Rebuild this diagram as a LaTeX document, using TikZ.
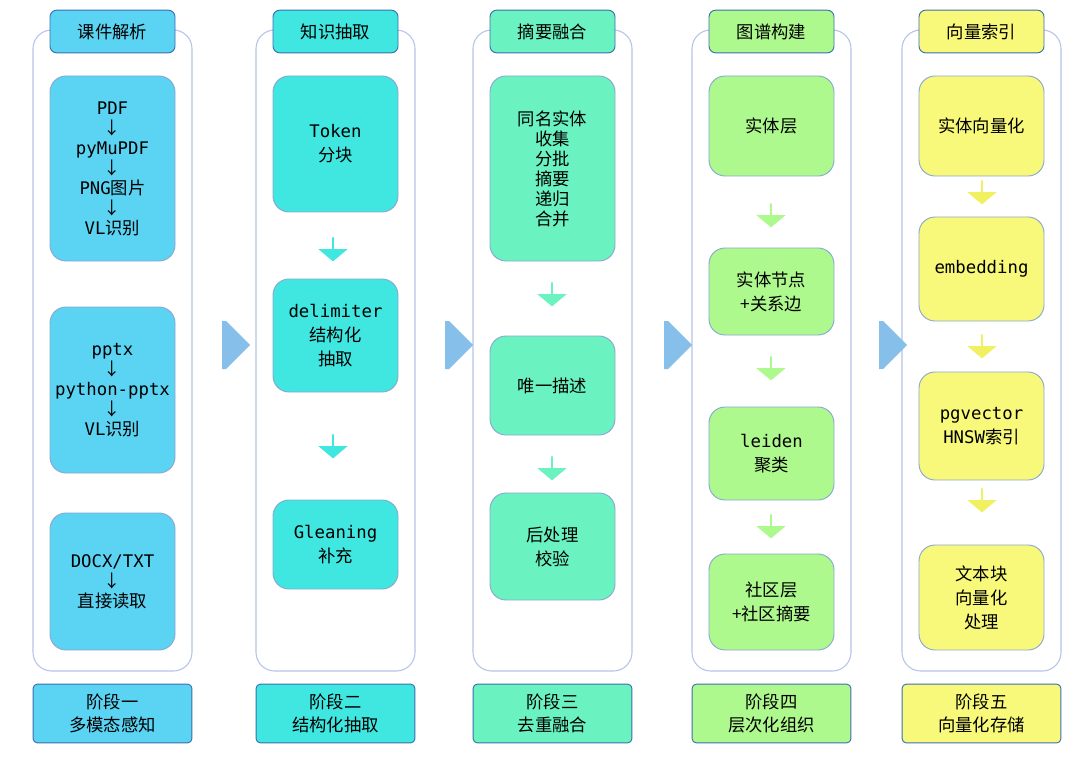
\documentclass[tikz,border=0pt]{standalone}
\usepackage{fontspec}
\setmainfont{Noto Sans CJK SC}
\setmonofont{DejaVu Sans Mono}
\usetikzlibrary{shapes.arrows}
\begin{document}
\begin{tikzpicture}[x=0.75pt,y=-0.75pt,
  font=\fontsize{13}{18}\selectfont,
  outer/.style={draw=#1,rounded corners=14pt,line width=0.8pt,fill=white},
  box/.style={draw=#1,rounded corners=12pt,line width=0.7pt,align=center},
  darr/.style={single arrow,draw=none,fill=#1,shape border rotate=270,minimum width=22pt,single arrow head extend=3pt,single arrow tip angle=100,minimum height=18pt,inner sep=0pt},
  harr/.style={single arrow,draw=none,fill=harrc,minimum width=36pt,single arrow head extend=0pt,minimum height=21pt,inner sep=0pt}]
\definecolor{harrc}{HTML}{86BFEA}
\definecolor{ob}{HTML}{B4C4E8}
\definecolor{bd}{HTML}{3A6FB0}
\definecolor{ca}{HTML}{5BD3F3}\definecolor{cb}{HTML}{40E6E0}\definecolor{cc}{HTML}{6AF2C0}
\definecolor{cd}{HTML}{AEF98E}\definecolor{ce}{HTML}{F8F87A}
\definecolor{aa}{HTML}{40E6E0}\definecolor{ac}{HTML}{6AF2C0}\definecolor{ad}{HTML}{AEF98E}\definecolor{ae}{HTML}{F0F060}
\useasboundingbox (0,0) rectangle (1080,759);
% column macro-like drawing
\newcommand{\col}[6]{% x, colour, title, stage1, stage2, name
  \draw[outer=ob] (#1,30) rectangle ++(159,641);
  \node[box=bd,fill=#2,rounded corners=5pt,minimum width=93.75pt,minimum height=32pt] (t#6) at (#1+79.5,31.5) {#3};
  \node[box=bd,fill=#2,rounded corners=3pt,minimum width=119pt,minimum height=44pt,inner sep=0pt,align=center,font=\fontsize{13}{17}\selectfont] (s#6) at (#1+79.5,713.5) {#4\\#5};
}
\newcommand{\bx}[6]{% name, colour, x, y1, y2, text
  \draw[box=bd!60,fill=#2] (#3,#4) rectangle (#3+125,#5);
  \node[align=center] (#1) at (#3+62.5,{(#4+#5)/2}) {#6};
}
\col{33}{ca}{课件解析}{阶段一}{多模态感知}{a}
\col{256}{cb}{知识抽取}{阶段二}{结构化抽取}{b}
\col{473}{cc}{摘要融合}{阶段三}{去重融合}{c}
\col{692}{cd}{图谱构建}{阶段四}{层次化组织}{d}
\col{902}{ce}{向量索引}{阶段五}{向量化存储}{e}
% col1
\bx{a1}{ca}{50}{76}{261}{\texttt{PDF}\\[-3pt]↓\\[-3pt]\texttt{pyMuPDF}\\[-3pt]↓\\[-3pt]\texttt{PNG}图片\\[-3pt]↓\\[-3pt]\texttt{VL}识别}
\bx{a2}{ca}{50}{307}{473}{\texttt{pptx}\\[-3pt]↓\\[-3pt]\texttt{python-pptx}\\[-3pt]↓\\[-3pt]\texttt{VL}识别}
\bx{a3}{ca}{50}{513}{650}{\texttt{DOCX/TXT}\\[-3pt]↓\\[-3pt]直接读取}
% col2
\bx{b1}{cb}{273}{76}{212}{\texttt{Token}\\分块}
\bx{b2}{cb}{273}{279}{392}{\texttt{delimiter}\\结构化\\抽取}
\bx{b3}{cb}{273}{500}{589}{\texttt{Gleaning}\\补充}
\node[darr=aa] (ba1) at (333,249) {};
\node[darr=aa] (ba2) at (333,446) {};
% col3
\bx{c1}{cc}{490}{76}{261}{同名实体\\[-3pt]收集\\[-3pt]分批\\[-3pt]摘要\\[-3pt]递归\\[-3pt]合并}
\bx{c2}{cc}{490}{336}{435}{唯一描述}
\bx{c3}{cc}{490}{493}{600}{后处理\\校验}
\node[darr=ac] (ca1) at (552,294) {};
\node[darr=ac] (ca2) at (552,468) {};
% col4
\bx{d1}{cd}{709}{76}{176}{实体层}
\bx{d2}{cd}{709}{248}{335}{实体节点\\+关系边}
\bx{d3}{cd}{709}{407}{500}{\texttt{leiden}\\聚类}
\bx{d4}{cd}{709}{554}{650}{社区层\\+社区摘要}
\node[darr=ad] (da1) at (771,215) {};
\node[darr=ad] (da2) at (771,368) {};
\node[darr=ad] (da3) at (771,526) {};
% col5
\bx{e1}{ce}{919}{76}{176}{实体向量化}
\bx{e2}{ce}{919}{217}{321}{\texttt{embedding}}
\bx{e3}{ce}{919}{372}{480}{\texttt{pgvector}\\\texttt{HNSW}索引}
\bx{e4}{ce}{919}{545}{650}{文本块\\向量化\\处理}
\node[darr=ae] (ea1) at (982,192) {};
\node[darr=ae] (ea2) at (982,346) {};
\node[darr=ae] (ea3) at (982,500) {};
% horizontal arrows
\foreach \x/\n in {224/h1,447/h2,666/h3,881/h4}
  \node[harr] (\n) at (\x,345) {};
\end{tikzpicture}
\end{document}
